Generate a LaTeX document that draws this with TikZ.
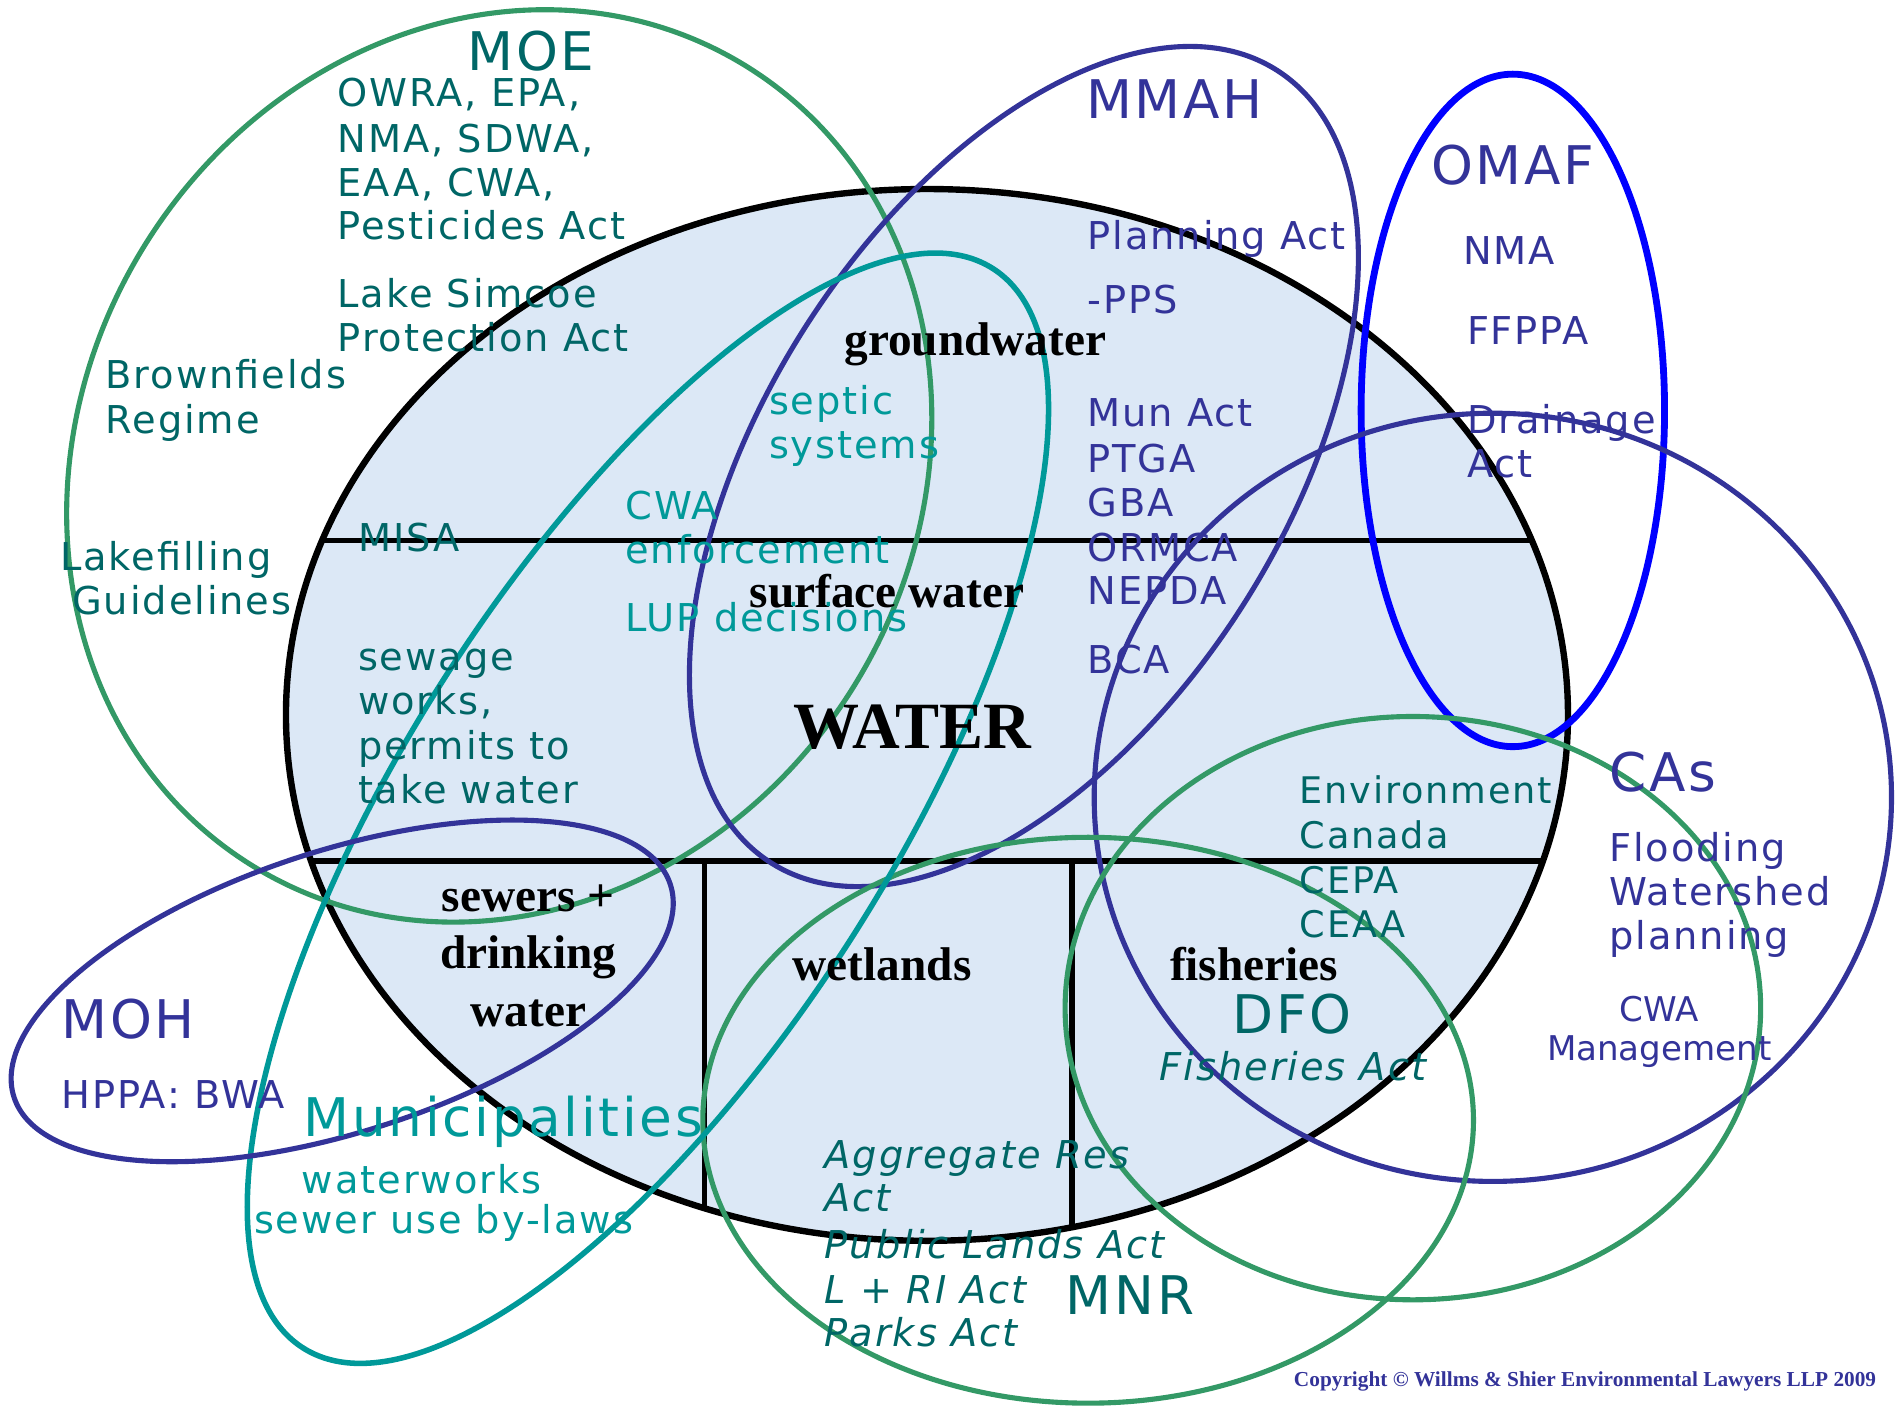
\documentclass[tikz,border=0pt]{standalone}
\usepackage{fontspec}
\newfontfamily\lblfont[LetterSpace=5]{DejaVu Sans}
\newfontfamily\plainfont{DejaVu Sans}
\newfontfamily\serifbold{Liberation Serif}
\definecolor{moetxt}{HTML}{006666}
\definecolor{munic}{HTML}{009999}
\definecolor{navy}{HTML}{333399}
\definecolor{sgreen}{HTML}{339966}
\definecolor{obl}{HTML}{0000FF}
\definecolor{waterfill}{RGB}{220,232,246}
\begin{document}
\begin{tikzpicture}[x=0.01cm,y=-0.01cm,
  sm/.style={font=\lblfont\fontsize{9}{10.8}\selectfont, anchor=base west, inner sep=0pt},
  smi/.style={font=\lblfont\itshape\fontsize{9}{10.8}\selectfont, anchor=base west, inner sep=0pt},
  sme/.style={font=\lblfont\fontsize{8.6}{10.3}\selectfont, anchor=base west, inner sep=0pt},
  tiny/.style={font=\plainfont\fontsize{8}{9.6}\selectfont, anchor=base west, inner sep=0pt},
  big/.style={font=\lblfont\fontsize{12.5}{15}\selectfont, anchor=base west, inner sep=0pt},
  sb/.style={font=\serifbold\bfseries\fontsize{11.1}{13.3}\selectfont, anchor=base, inner sep=0pt},
  ring/.style={line width=1.2pt},
  part/.style={line width=1.3pt, black}]
\useasboundingbox (0,0) rectangle (1568,1161);

% WATER ellipse
\fill[waterfill] (765,590) ellipse [x radius=529, y radius=434];
\begin{scope}
  \clip (765,590) ellipse [x radius=529, y radius=434];
  \draw[part] (200,446) -- (1350,446);
  \draw[part] (200,710.5) -- (1350,710.5);
  \draw[part] (581.5,710.5) -- (581.5,1100);
  \draw[part] (884.6,710.5) -- (884.6,1100);
\end{scope}
\draw[line width=1.5pt] (765,590) ellipse [x radius=529, y radius=434];

% agency ellipses
\draw[ring, sgreen, rotate around={58.4:(412,384.5)}] (412,384.5) ellipse [x radius=387.8, y radius=344.6];
\draw[ring, navy, rotate around={57.4:(845,385)}] (845,385) ellipse [x radius=388, y radius=214];
\draw[line width=1.6pt, obl] (1248.5,338.7) ellipse [x radius=125.2, y radius=277.5];
\draw[ring, navy] (1232,658) ellipse [x radius=329, y radius=317];
\draw[ring, sgreen] (1166,832) ellipse [x radius=287, y radius=240.7];
\draw[ring, sgreen] (898,924.5) ellipse [x radius=318, y radius=233.5];
\draw[line width=1.3pt, munic, rotate around={57.4:(534.7,667)}] (534.7,667) ellipse [x radius=528.6, y radius=199.3];
\draw[ring, navy, rotate around={17.95:(282.4,817.75)}] (282.4,817.75) ellipse [x radius=284.7, y radius=116];

% bold serif labels
\node[sb] (gw) at (805,293.6) {groundwater};
\node[sb] (sw) at (732,501) {surface water};
\node[sb, font=\serifbold\bfseries\fontsize{15.5}{18}\selectfont] (water) at (753,617.6) {WATER};
\node[sb] (sew1) at (436,752.4) {sewers +};
\node[sb] (sew2) at (436,799) {drinking};
\node[sb] (sew3) at (436,847) {water};
\node[sb] (wet) at (728,808.8) {wetlands};
\node[sb] (fish) at (1035,808.8) {fisheries};

% MOE
\begin{scope}[moetxt]
\node[big] (moeT) at (385,58) {MOE};
\node[sm] (moe1) at (278,88) {OWRA, EPA,};
\node[sm] (moe2) at (278,125.6) {NMA, SDWA,};
\node[sm] (moe3) at (278,162) {EAA, CWA,};
\node[sm] (moe4) at (278,198) {Pesticides Act};
\node[sm] (moe5) at (278,254) {Lake Simcoe};
\node[sm] (moe6) at (278,290) {Protection Act};
\node[sm] (moe7) at (86.6,321) {Brownfields};
\node[sm] (moe8) at (86.6,358) {Regime};
\node[sm] (moe9) at (295,455) {MISA};
\node[sm] (moe10) at (49,471) {Lakefilling};
\node[sm] (moe11) at (59,507) {Guidelines};
\node[sm] (moe12) at (294.8,553) {sewage};
\node[sm] (moe13) at (294.8,590) {works,};
\node[sm] (moe14) at (294.8,626.7) {permits to};
\node[sm] (moe15) at (294.8,663) {take water};
\end{scope}

% Municipalities
\begin{scope}[munic]
\node[sm] (mu1) at (634,342) {septic};
\node[sm] (mu2) at (634,378.5) {systems};
\node[sm] (mu3) at (515.5,429) {CWA};
\node[sm] (mu4) at (515.5,465) {enforcement};
\node[sm] (mu5) at (515.5,521.3) {LUP decisions};
\node[big] (muT) at (250,938) {Municipalities};
\node[sm] (mu6) at (248.5,985) {waterworks};
\node[sm] (mu7) at (209,1018) {sewer use by-laws};
\end{scope}

% MMAH
\begin{scope}[navy]
\node[big] (mmT) at (895.6,98) {MMAH};
\node[sm] (mm1) at (896.8,205.5) {Planning Act};
\node[sm] (mm2) at (896.8,259) {-PPS};
\node[sm] (mm3) at (896.8,352) {Mun Act};
\node[sm] (mm4) at (896.8,390) {PTGA};
\node[sm] (mm5) at (896.8,426) {GBA};
\node[sm] (mm6) at (896.8,463) {ORMCA};
\node[sm] (mm7) at (896.8,499) {NEPDA};
\node[sm] (mm8) at (896.8,555.7) {BCA};
% OMAF
\node[big] (omT) at (1180.4,152) {OMAF};
\node[sm] (om1) at (1206.8,218) {NMA};
\node[sm] (om2) at (1210,284.5) {FFPPA};
\node[sm] (om3) at (1210,358) {Drainage};
\node[sm] (om4) at (1210,394) {Act};
% CAs
\node[big] (caT) at (1327.5,653) {CAs};
\node[sm] (ca1) at (1327.5,711) {Flooding};
\node[sm] (ca2) at (1327.5,747) {Watershed};
\node[sm] (ca3) at (1327.5,784) {planning};
\node[tiny] (ca4) at (1336,843.2) {CWA};
\node[tiny] (ca5) at (1276,874.8) {Management};
% MOH
\node[big] (mohT) at (50,857) {MOH};
\node[sm] (moh1) at (50,914.7) {HPPA: BWA};
\end{scope}

% federal
\begin{scope}[moetxt]
\node[sme] (fe1) at (1072,663) {Environment};
\node[sme] (fe2) at (1072,700) {Canada};
\node[sme] (fe3) at (1072,737) {CEPA};
\node[sme] (fe4) at (1072,773.6) {CEAA};
\node[big] (dfoT) at (1016.5,853) {DFO};
\node[smi] (fe5) at (956.5,891.3) {Fisheries Act};
% MNR
\node[smi] (mn1) at (680,964) {Aggregate Res};
\node[smi] (mn2) at (680,1000) {Act};
\node[smi] (mn3) at (680,1038.5) {Public Lands Act};
\node[smi] (mn4) at (680,1075.6) {L + RI Act};
\node[smi] (mn5) at (680,1111.4) {Parks Act};
\node[big] (mnT) at (879,1085) {MNR};
\end{scope}

\node[font=\serifbold\bfseries\fontsize{5}{6}\selectfont, text=navy, anchor=base east, inner sep=0pt] (copy) at (1549,1144.4) {Copyright © Willms \& Shier Environmental Lawyers LLP 2009};
\end{tikzpicture}
\end{document}
